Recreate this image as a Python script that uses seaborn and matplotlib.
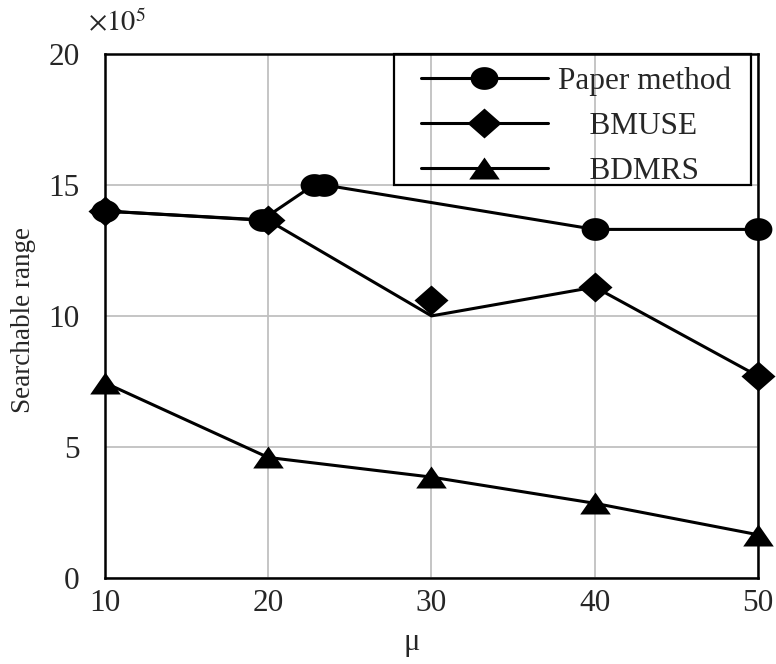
import numpy as np
import pandas as pd
import seaborn as sns
import matplotlib.pyplot as plt
from matplotlib.lines import Line2D
from matplotlib.legend_handler import HandlerLine2D
from matplotlib.patches import Rectangle

# 数据 (单位: x10^5)
mu = [10, 20, 30, 40, 50]
paper_mu = [10, 19.6, 22.8, 23.4, 40, 50]
paper_range = [14.0, 13.65, 15.0, 15.0, 13.3, 13.3]
bmuse_line = [14.0, 13.65, 10.0, 11.1, 7.7]
bmuse_marker = [14.0, 13.65, 10.6, 11.1, 7.7]
bdmrs_range = [7.45, 4.6, 3.85, 2.85, 1.65]
labels = ['Paper method', 'BMUSE', 'BDMRS']

sns.set_style('white')
plt.rcParams['font.family'] = ['Liberation Serif', 'DejaVu Serif']
plt.rcParams['mathtext.fontset'] = 'stix'

# 略扁的标记
t = np.linspace(0, 2 * np.pi, 60)
ellipse = list(zip(np.cos(t), 0.82 * np.sin(t)))
diamond = [(1, 0), (0, 0.88), (-1, 0), (0, -0.88), (1, 0)]
triangle = [(0, 0.72), (-1, -0.72), (1, -0.72), (0, 0.72)]

fig = plt.figure(figsize=(7.76, 6.64), dpi=100)
ax = fig.add_axes([0.135, 0.1295, 0.842, 0.7895])

line_kw = dict(color='black', linewidth=2.2, clip_on=False, markeredgewidth=0)

sns.lineplot(x=paper_mu, y=paper_range, ax=ax, sort=False, marker=ellipse,
             markersize=20, zorder=3, **line_kw)
sns.lineplot(x=mu, y=bmuse_line, ax=ax, sort=False, zorder=4, **line_kw)
sns.lineplot(x=mu, y=bmuse_marker, ax=ax, sort=False, marker=diamond,
             markersize=24.5, linestyle='none', zorder=4, color='black',
             clip_on=False, markeredgewidth=0)
sns.lineplot(x=mu, y=bdmrs_range, ax=ax, sort=False, marker=triangle,
             markersize=22, zorder=5, **line_kw)

ax.set_xlim(10, 50)
ax.set_ylim(0, 20)
ax.set_xticks(mu)
ax.set_yticks([0, 5, 10, 15, 20])
ax.tick_params(axis='both', length=0, labelsize=22.5)
ax.tick_params(axis='y', pad=18)
ax.tick_params(axis='x', pad=8)
ax.grid(True, color='#c0c0c0', linewidth=1.3)
ax.set_axisbelow(True)
for s in ax.spines.values():
    s.set_color('black')
    s.set_linewidth(1.8)

ax.set_xlabel('μ', fontsize=22)
ax.xaxis.set_label_coords(0.47, -0.096)
ax.set_ylabel('Searchable range', fontsize=19.5)
ax.yaxis.set_label_coords(-0.106, 0.492)
fig.text(0.113, 0.953, r'$\times 10^{5}$', fontsize=20.5)

handles = [
    Line2D([], [], color='black', lw=2.2, marker=ellipse, markersize=20, markeredgewidth=0),
    Line2D([], [], color='black', lw=2.2, marker=diamond, markersize=24.5, markeredgewidth=0),
    Line2D([], [], color='black', lw=2.2, marker=triangle, markersize=22, markeredgewidth=0),
]
leg_labels = [labels[0] + ' ', '    ' + labels[1], '    ' + labels[2]]
fs = 22.5
fs_px = fs * 100 / 72
pad_px = 16
leg = ax.legend(handles, leg_labels, loc='upper right', bbox_to_anchor=(0.989, 1.0),
                borderaxespad=0, fontsize=fs,
                handlelength=(111 + 2 * pad_px) / fs_px,
                handletextpad=(26 - pad_px) / fs_px,
                labelspacing=0.52, borderpad=0.4, frameon=False,
                handler_map={Line2D: HandlerLine2D(xpad=pad_px / fs_px)})
# 图例外框
ax.add_patch(Rectangle((0.4426, 0.75), 0.5464, 0.25, transform=ax.transAxes,
                       fill=False, edgecolor='black', linewidth=1.6, zorder=6,
                       clip_on=False))

fig.savefig('out.png', dpi=100)
